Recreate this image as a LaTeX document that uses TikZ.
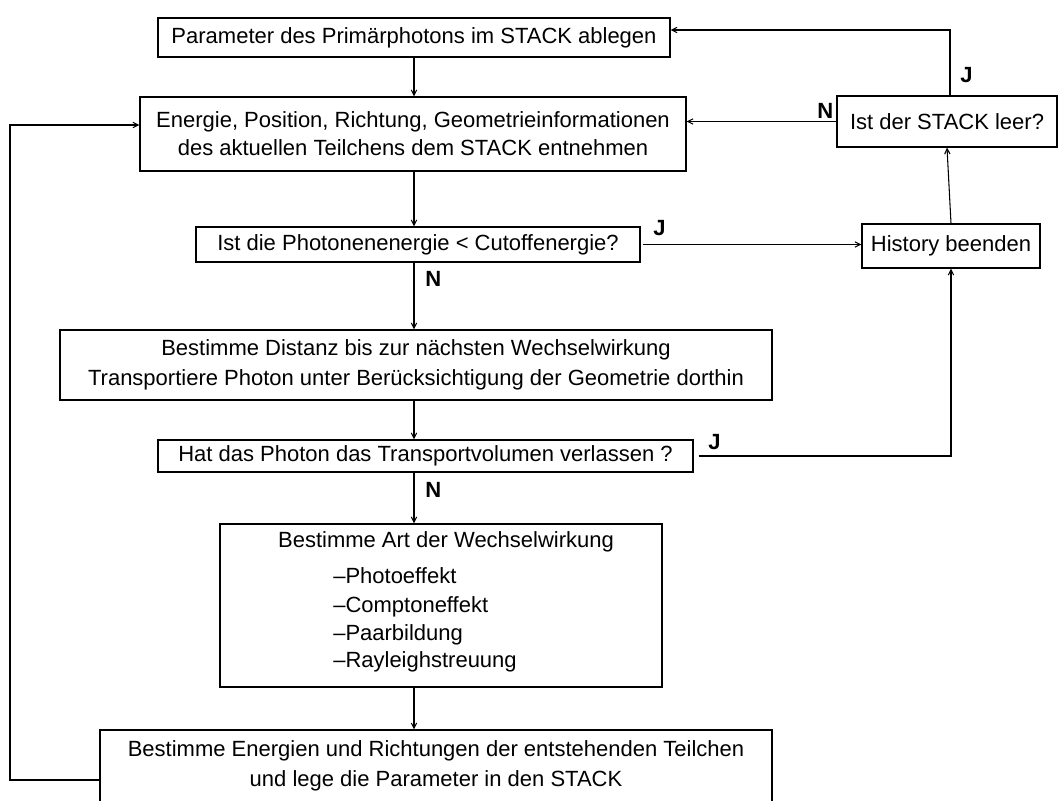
\documentclass[tikz,border=0pt]{standalone}
\usepackage{fontspec}
\setmainfont{Liberation Sans}
\usetikzlibrary{arrows.meta}
\begin{document}
\begin{tikzpicture}[x=0.75pt,y=-0.75pt,
  box/.style={draw, line width=0.8pt, inner sep=0pt, align=center, font=\fontsize{16.5}{21}\selectfont},
  txt/.style={inner sep=0pt, align=center, font=\fontsize{16.5}{21}\selectfont},
  lbl/.style={inner sep=0pt, font=\fontsize{16.5}{20}\selectfont\bfseries},
  arr/.style={line width=0.8pt, -{Straight Barb[length=4pt,width=4pt]}},
  ln/.style={line width=0.8pt}]
\useasboundingbox (0,0) rectangle (1059,800);
\coordinate (ax) at (414,0);
\node[box, minimum width=384pt, minimum height=29.25pt] (b1) at (414,37.5) {Parameter des Primärphotons im STACK ablegen};
\node[box, minimum width=409.5pt, minimum height=55.5pt] (b2) at (413,134) {Energie, Position, Richtung, Geometrieinformationen\\[0pt]des aktuellen Teilchens dem STACK entnehmen};
\node[box, minimum width=333pt, minimum height=26.25pt] (b3) at (418,244.5) {Ist die Photonenenergie < Cutoffenergie?};
\node[box, minimum width=133.5pt, minimum height=33pt] (hist) at (951,246) {History beenden};
\node[box, minimum width=165pt, minimum height=38.25pt] (stack) at (947,121.5) {Ist der STACK leer?};
\node[box, minimum width=534pt, minimum height=52.5pt] (b4) at (416,365) {Bestimme Distanz bis zur nächsten Wechselwirkung\\[1.5pt]Transportiere Photon unter Berücksichtigung der Geometrie dorthin};
\node[box, minimum width=401.25pt, minimum height=24pt] (b5) at (425.5,456) {Hat das Photon das Transportvolumen verlassen ?};
\node[box, minimum width=331.5pt, minimum height=122.25pt] (b6) at (441,605.5) {};
\node[txt, anchor=base] (t6) at (446,547) {Bestimme Art der Wechselwirkung};
\node[txt, anchor=base west, align=left] (l1) at (333,583) {–Photoeffekt};
\node[txt, anchor=base west, align=left] (l2) at (333,612) {–Comptoneffekt};
\node[txt, anchor=base west, align=left] (l3) at (333,640) {–Paarbildung};
\node[txt, anchor=base west, align=left] (l4) at (333,667) {–Rayleighstreuung};
\node[draw, line width=0.8pt, inner sep=0pt, minimum width=504pt, minimum height=61.5pt] (b7) at (436,771) {};
\node[txt] (t7) at (436,766) {Bestimme Energien und Richtungen der entstehenden Teilchen\\[1.5pt]und lege die Parameter in den STACK};
% labels
\node[lbl, anchor=base west] (j1) at (653,235) {J};
\node[lbl, anchor=base west] (n1) at (425,286) {N};
\node[lbl, anchor=base west] (j2) at (708,449) {J};
\node[lbl, anchor=base west] (n2) at (425,497) {N};
\node[lbl, anchor=base west] (n3) at (817,118) {N};
\node[lbl, anchor=base west] (j3) at (960,82) {J};
% connectors
\draw[arr] (b1.south -| ax) -- (b2.north -| ax);
\draw[arr] (b2.south -| ax) -- (b3.north -| ax);
\draw[arr] (b3.south -| ax) -- (b4.north -| ax);
\draw[arr] (b4.south -| ax) -- (b5.north -| ax);
\draw[arr] (b5.south -| ax) -- (b6.north -| ax);
\draw[arr] (b6.south -| ax) -- (b7.north -| ax);
\coordinate (c3) at ([xshift=1.5pt]b3.east);
\draw[arr] (c3) -- (hist.west |- c3);
\coordinate (c5) at ([xshift=3.75pt]b5.east);
\draw[arr] (c5) -| (hist.south);
\draw[arr] (hist.north) -- (stack.south);
\draw[arr] (stack.west) -- (stack.west -| b2.east);
\coordinate (top) at (950,30);
\draw[arr] (stack.north -| top) |- (b1.east |- top);
\coordinate (lft) at (10,125);
\draw[arr] (b7.west |- 0,780) -| (lft) -- (b2.west |- lft);
\end{tikzpicture}
\end{document}
